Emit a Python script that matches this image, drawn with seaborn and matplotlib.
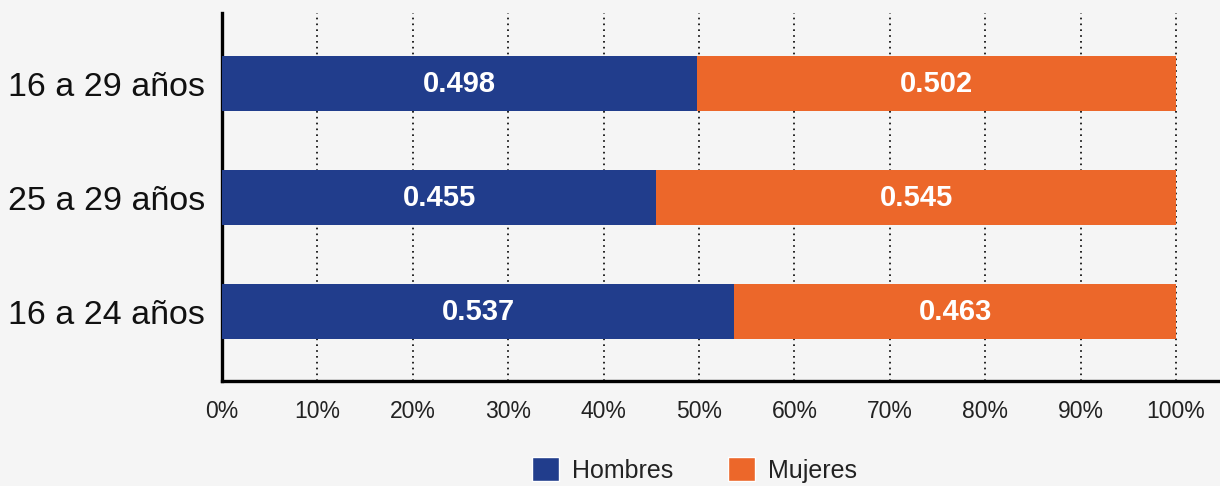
import matplotlib
matplotlib.use('Agg')
import matplotlib.pyplot as plt
import seaborn as sns
import pandas as pd
from matplotlib.patches import Patch

# datos
grupos = ['16 a 29 años', '25 a 29 años', '16 a 24 años']
hombres = [0.498, 0.455, 0.537]
mujeres = [0.502, 0.545, 0.463]

azul = '#213d8c'
naranja = '#ec672a'
fondo = '#f5f5f5'

sns.set_theme(style='white')
plt.rcParams['font.family'] = ['Liberation Sans', 'DejaVu Sans']

df = pd.DataFrame({'grupo': grupos,
                   'Hombres': [h * 100 for h in hombres],
                   'Mujeres': [m * 100 for m in mujeres]})
df['total'] = df['Hombres'] + df['Mujeres']

fig = plt.figure(figsize=(12.2, 4.86), dpi=100, facecolor=fondo)
ax = fig.add_axes([0.182, 0.216, 0.818, 0.757], facecolor=fondo)

# barras apiladas: total (naranja) debajo, hombres (azul) encima
sns.barplot(data=df, y='grupo', x='total', color=naranja, width=0.48,
            saturation=1, linewidth=0, ax=ax, zorder=3)
sns.barplot(data=df, y='grupo', x='Hombres', color=azul, width=0.48,
            saturation=1, linewidth=0, ax=ax, zorder=3)

# etiquetas de valor
for i, (h, m) in enumerate(zip(hombres, mujeres)):
    ax.text(h * 50, i, f'{h:.3f}', color='white', fontsize=21, fontweight='bold',
            ha='center', va='center', zorder=5)
    ax.text(h * 100 + m * 50, i, f'{m:.3f}', color='white', fontsize=21,
            fontweight='bold', ha='center', va='center', zorder=5)

ax.set_xlim(0, 104.6)
ax.set_ylim(2.61, -0.62)
ax.set_xticks(range(0, 101, 10))
ax.set_xticklabels([f'{t}%' for t in range(0, 101, 10)], fontsize=16.5, color='#222222')
ax.tick_params(axis='y', labelsize=24.5, labelcolor='#111111', pad=12, length=0)
ax.tick_params(axis='x', pad=14, length=0)
ax.set_xlabel('')
ax.set_ylabel('')

# rejilla punteada
for t in range(10, 101, 10):
    ax.axvline(t, color='black', linestyle=(0, (1, 2.5)), linewidth=1.2, zorder=1)

for s in ['top', 'right']:
    ax.spines[s].set_visible(False)
for s in ['left', 'bottom']:
    ax.spines[s].set_color('black')
    ax.spines[s].set_linewidth(2.4)

handles = [Patch(facecolor=azul, label='Hombres'), Patch(facecolor=naranja, label='Mujeres')]
fig.legend(handles=handles, loc='center', bbox_to_anchor=(0.569, 0.033), ncol=2,
           frameon=False, fontsize=18, handlelength=1.1, handleheight=1.1,
           columnspacing=2.2, handletextpad=0.5, labelcolor='#222222')

fig.savefig('out.png', dpi=100, facecolor=fondo)
